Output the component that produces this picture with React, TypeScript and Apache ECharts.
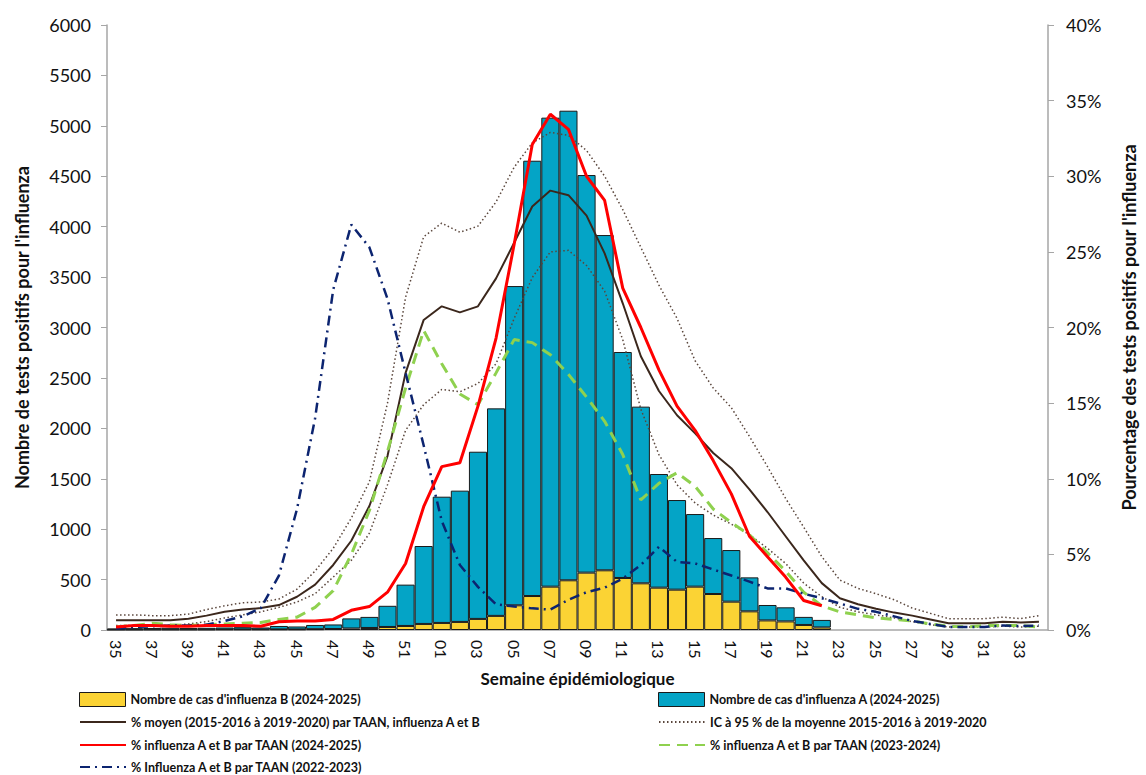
import React, { useEffect, useRef } from "react";
import * as echarts from "echarts";

const weeks = [
  "35","36","37","38","39","40","41","42","43","44","45","46","47","48","49","50","51","52",
  "01","02","03","04","05","06","07","08","09","10","11","12","13","14","15","16","17","18",
  "19","20","21","22","23","24","25","26","27","28","29","30","31","32","33","34",
];

const casB = [
  3,3,4,4,4,4,5,5,5,6,6,8,10,15,20,30,40,60,
  70,80,110,140,245,337,430,493,569,592,516,463,420,400,430,357,281,185,
  95,85,50,25,null,null,null,null,null,null,null,null,null,null,null,null,
];

const casA = [
  12,15,16,18,16,18,20,23,20,34,29,42,45,100,110,210,410,773,
  1252,1302,1658,2058,3166,4317,4651,4657,3943,3325,2241,1752,1127,889,720,555,512,337,
  153,140,80,75,null,null,null,null,null,null,null,null,null,null,null,null,
];

const pctMoyen = [
  0.65,0.65,0.65,0.65,0.75,0.95,1.2,1.35,1.45,1.65,2.2,3.0,4.3,5.9,8.2,11.5,17.0,20.5,
  21.4,21.0,21.4,23.25,25.6,28.0,29.05,28.75,27.4,24.9,21.6,18.1,15.8,14.2,13.0,11.7,10.7,9.3,
  7.8,6.2,4.6,3.1,2.1,1.7,1.4,1.15,0.95,0.7,0.45,0.45,0.45,0.55,0.5,0.55,
];

const icHaut = [
  1.0,1.0,0.95,0.95,1.05,1.35,1.6,1.8,1.85,2.05,2.7,3.9,5.4,7.4,9.8,15.0,22.0,26.0,
  26.9,26.3,26.7,28.3,30.6,32.2,32.9,32.7,31.7,30.0,27.8,25.3,22.8,20.6,17.8,16.0,14.7,12.8,
  10.8,8.7,6.8,4.85,3.3,2.75,2.4,2.0,1.45,1.1,0.75,0.75,0.75,0.85,0.75,0.95,
];

const icBas = [
  0.3,0.3,0.3,0.3,0.4,0.55,0.8,1.0,1.2,1.5,1.85,2.4,3.5,4.6,6.4,9.6,13.2,14.9,
  15.9,15.75,16.3,17.6,20.6,23.3,25.0,25.1,24.1,22.4,19.2,14.6,11.6,9.6,8.4,7.6,7.0,6.3,
  5.4,4.4,3.1,2.2,1.5,1.2,1.0,0.8,0.55,0.35,0.2,0.2,0.2,0.25,0.2,0.25,
];

const pct2425 = [
  0.2,0.3,0.3,0.25,0.25,0.3,0.3,0.3,0.25,0.55,0.6,0.6,0.7,1.3,1.55,2.5,4.4,8.15,
  10.8,11.06,14.8,19.3,25.5,32.1,34.1,33.1,30.0,28.4,22.6,20.0,17.2,14.8,13.2,11.2,9.0,6.2,
  4.85,3.5,1.95,1.6,null,null,null,null,null,null,null,null,null,null,null,null,
];

const pct2324 = [
  0.2,0.3,0.45,0.35,0.3,0.35,0.4,0.45,0.5,0.7,0.85,1.5,2.6,5.0,7.9,11.8,16.0,19.8,
  17.6,15.6,14.9,17.0,19.2,19.0,18.2,16.9,15.4,13.8,11.6,8.6,9.7,10.4,9.5,8.0,7.1,6.3,
  5.1,3.9,2.5,1.6,1.2,1.0,0.8,0.7,0.6,0.4,0.25,0.2,0.3,0.3,0.3,0.2,
];

const pct2223 = [
  0.1,0.2,0.25,0.3,0.3,0.35,0.6,0.9,1.45,3.6,8.0,14.0,22.5,26.8,25.3,21.9,17.0,12.2,
  7.2,4.3,2.85,1.7,1.55,1.43,1.35,2.0,2.5,2.8,3.4,4.3,5.5,4.5,4.4,4.0,3.6,3.2,
  2.75,2.75,2.4,2.1,1.75,1.4,1.2,0.9,0.6,0.4,0.2,0.2,0.2,0.3,0.25,0.3,
];

const N_B = "Nombre de cas d'influenza B (2024-2025)";
const N_A = "Nombre de cas d'influenza A (2024-2025)";
const N_MOY = "% moyen (2015-2016 à 2019-2020) par TAAN, influenza A et B";
const N_IC = "IC à 95 % de la moyenne 2015-2016 à 2019-2020";
const N_2425 = "% influenza A et B par TAAN (2024-2025)";
const N_2324 = "% influenza A et B par TAAN (2023-2024)";
const N_2223 = "% Influenza A et B par TAAN (2022-2023)";

const COL_B = "#FBD334";
const COL_A = "#04A4C6";

// legend entries: name, column, row, bar fill colour (null for lines)
const legendItems: [string, number, number, string | null][] = [
  [N_B, 0, 0, COL_B],
  [N_A, 1, 0, COL_A],
  [N_MOY, 0, 1, null],
  [N_IC, 1, 1, null],
  [N_2425, 0, 2, null],
  [N_2324, 1, 2, null],
  [N_2223, 0, 3, null],
];

const FONT = "Lato, 'Open Sans', sans-serif";

export default function App() {
  const ref = useRef<HTMLDivElement>(null);
  useEffect(() => {
    if (!ref.current) return;
    const chart = echarts.init(ref.current, undefined, { renderer: "svg" });
    const legendText = { fontFamily: FONT, fontSize: 12.5, fontWeight: "bold" as const, color: "#111", lineHeight: 14 };
    const colLeft = [79, 658];
    const rowCenter = [699, 722, 745, 767];
    const legends = legendItems.map(([name, col, row, barColor]) => {
      const base: any = {
        orient: "horizontal",
        left: colLeft[col],
        top: rowCenter[row] - 7,
        padding: 0,
        itemWidth: 46,
        itemHeight: 14,
        textStyle: legendText,
      };
      if (barColor) {
        base.itemStyle = { color: barColor, borderColor: "#1a1a1a", borderWidth: 1 };
        base.data = [{ name, icon: "rect" }];
      } else {
        base.itemStyle = { opacity: 0 };
        base.data = [{ name }];
      }
      return base;
    });
    chart.setOption({
      animation: false,
      textStyle: { fontFamily: FONT },
      grid: { left: 107, right: 93, top: 25, bottom: 145, containLabel: false },
      legend: legends,
      xAxis: {
        type: "category",
        data: weeks,
        name: "Semaine épidémiologique",
        nameLocation: "middle",
        nameGap: 40,
        nameTextStyle: { fontFamily: FONT, fontSize: 17, fontWeight: "bold", color: "#111" },
        axisLine: { lineStyle: { color: "#a6a6a6", width: 1.5 } },
        axisTick: { show: false },
        axisLabel: { interval: 1, rotate: -90, fontSize: 16, color: "#111", margin: 10, fontFamily: FONT },
      },
      yAxis: [
        {
          type: "value",
          min: 0,
          max: 6000,
          interval: 500,
          name: "Nombre de tests positifs pour l'influenza",
          nameLocation: "middle",
          nameRotate: 90,
          nameGap: 76,
          nameTextStyle: { fontFamily: FONT, fontSize: 18, fontWeight: "bold", color: "#111" },
          axisLine: { show: true, lineStyle: { color: "#a6a6a6", width: 1.5 } },
          axisTick: { show: true, length: 6, lineStyle: { color: "#a6a6a6" } },
          splitLine: { show: false },
          axisLabel: { fontSize: 18, color: "#111", margin: 16, fontFamily: FONT, formatter: (v: number) => String(v) },
        },
        {
          type: "value",
          min: 0,
          max: 40,
          interval: 5,
          position: "right",
          name: "Pourcentage des tests positifs pour l'influenza",
          nameLocation: "middle",
          nameRotate: 90,
          nameGap: 72,
          nameTextStyle: { fontFamily: FONT, fontSize: 18, fontWeight: "bold", color: "#111" },
          axisLine: { show: true, lineStyle: { color: "#a6a6a6", width: 1.5 } },
          axisTick: { show: true, length: 6, lineStyle: { color: "#a6a6a6" } },
          splitLine: { show: false },
          axisLabel: { fontSize: 18, color: "#111", margin: 18, formatter: "{value}%", fontFamily: FONT },
        },
      ],
      series: [
        {
          name: N_B,
          type: "bar",
          stack: "cas",
          yAxisIndex: 0,
          barCategoryGap: "0%",
          data: casB,
          itemStyle: { color: COL_B, borderColor: "#1a1a1a", borderWidth: 1 },
        },
        {
          name: N_A,
          type: "bar",
          stack: "cas",
          yAxisIndex: 0,
          barCategoryGap: "0%",
          data: casA,
          itemStyle: { color: COL_A, borderColor: "#1a1a1a", borderWidth: 1 },
        },
        {
          name: N_MOY,
          type: "line",
          yAxisIndex: 1,
          data: pctMoyen,
          symbol: "none",
          lineStyle: { color: "#3b271c", width: 2 },
          itemStyle: { color: "#3b271c" },
        },
        {
          name: N_IC,
          type: "line",
          yAxisIndex: 1,
          data: icHaut,
          symbol: "none",
          lineStyle: { color: "#5a463c", width: 1.5, type: [1.5, 2.5] },
          itemStyle: { color: "#5a463c" },
        },
        {
          name: N_IC,
          type: "line",
          yAxisIndex: 1,
          data: icBas,
          symbol: "none",
          lineStyle: { color: "#5a463c", width: 1.5, type: [1.5, 2.5] },
          itemStyle: { color: "#5a463c" },
        },
        {
          name: N_2324,
          type: "line",
          yAxisIndex: 1,
          data: pct2324,
          symbol: "none",
          lineStyle: { color: "#8fd14f", width: 3, type: [11, 7] },
          itemStyle: { color: "#8fd14f" },
        },
        {
          name: N_2223,
          type: "line",
          yAxisIndex: 1,
          data: pct2223,
          symbol: "none",
          lineStyle: { color: "#0c2470", width: 2.5, type: [10, 5, 2, 5] },
          itemStyle: { color: "#0c2470" },
        },
        {
          name: N_2425,
          type: "line",
          yAxisIndex: 1,
          data: pct2425,
          symbol: "none",
          lineStyle: { color: "#ff0000", width: 3 },
          itemStyle: { color: "#ff0000" },
        },
      ],
    });
    return () => chart.dispose();
  }, []);
  return (
    <div
      ref={ref}
      style={{ position: "fixed", left: 0, top: 0, width: 1146, height: 775, background: "#fff" }}
    />
  );
}
